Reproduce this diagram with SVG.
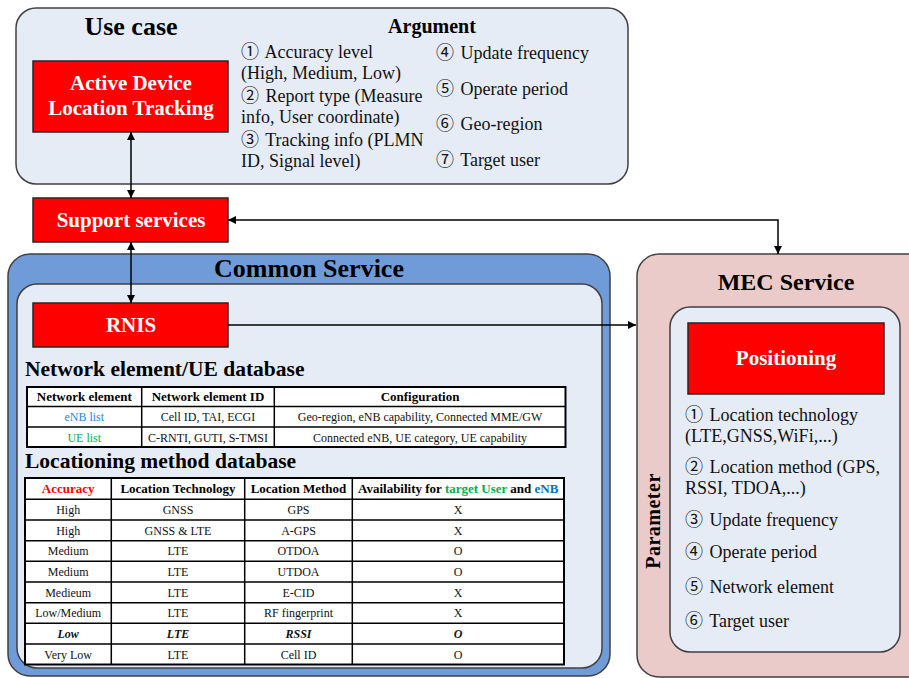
<svg xmlns="http://www.w3.org/2000/svg" width="909" height="678" viewBox="0 0 909 678">
<defs>
<style>
text{font-family:"Liberation Serif","Times New Roman",serif;fill:#111}
.red{fill:#FF0000;stroke:#262626;stroke-width:1.5}
.wt{fill:#fff;font-weight:bold;font-size:21px;text-anchor:middle}
.title{font-weight:bold;font-size:26px;text-anchor:middle;fill:#000}
.sub{font-weight:bold;font-size:20px;fill:#000}
.h2{font-weight:bold;font-size:21.5px;fill:#000}
.item{font-size:18px}
.c{font-family:"Noto Sans CJK JP","DejaVu Sans",sans-serif;font-size:18px}
.th{font-weight:bold;font-size:13px;text-anchor:middle;fill:#000}
.td{font-size:12px;text-anchor:middle;fill:#111}
.bi{font-weight:bold;font-style:italic}
.tbl{fill:#fff;stroke:#000;stroke-width:2}
.grid{stroke:#000;stroke-width:1.5;fill:none}
.conn{stroke:#000;stroke-width:1.5;fill:none}
</style>
<marker id="ah" viewBox="0 0 10 10" refX="10" refY="5" markerWidth="8" markerHeight="8" orient="auto-start-reverse" markerUnits="userSpaceOnUse">
<path d="M0,0 L10,5 L0,10 z" fill="#000"/>
</marker>
</defs>

<g id="usecase">
<rect x="16" y="8" width="612" height="176" rx="20" fill="#E6ECF6" stroke="#404040" stroke-width="1.5"/>
<text class="title" x="131" y="35">Use case</text>
<text class="sub" x="432" y="33" text-anchor="middle">Argument</text>
<text class="item" x="241" y="58"><tspan class="c">①</tspan> <tspan dx="2">Accuracy level</tspan></text>
<text class="item" x="241" y="79"> (High, Medium, Low)</text>
<text class="item" x="241" y="102"><tspan class="c">②</tspan> <tspan dx="2">Report type (Measure</tspan></text>
<text class="item" x="241" y="123">info, User coordinate)</text>
<text class="item" x="241" y="146"><tspan class="c">③</tspan> <tspan dx="2">Tracking info (PLMN</tspan></text>
<text class="item" x="241" y="167">ID, Signal level)</text>
<text class="item" x="436" y="59"><tspan class="c">④</tspan> <tspan dx="2">Update frequency</tspan></text>
<text class="item" x="436" y="95"><tspan class="c">⑤</tspan> <tspan dx="2">Operate period</tspan></text>
<text class="item" x="436" y="130"><tspan class="c">⑥</tspan> <tspan dx="2">Geo-region</tspan></text>
<text class="item" x="436" y="166"><tspan class="c">⑦</tspan> <tspan dx="2">Target user</tspan></text>
</g>

<g id="active-device">
<rect class="red" x="33" y="61" width="195" height="71"/>
<text class="wt" x="131" y="90">Active Device</text>
<text class="wt" x="131" y="115">Location Tracking</text>
</g>

<g id="support-services">
<rect class="red" x="33" y="198" width="195" height="44"/>
<text class="wt" x="131" y="227">Support services</text>
</g>

<g id="common-service">
<rect x="8" y="254" width="602" height="422" rx="22" fill="#6F9BD9" stroke="#404040" stroke-width="1.5"/>
<text class="title" x="309" y="277">Common Service</text>
<rect x="17" y="284" width="585" height="384" rx="20" fill="#E6ECF6" stroke="#404040" stroke-width="1.5"/>
</g>

<g id="rnis">
<rect class="red" x="33" y="303" width="195" height="44"/>
<text class="wt" x="131" y="332">RNIS</text>
</g>

<g id="ne-ue-database">
<text class="h2" x="25" y="376">Network element/UE database</text>
<rect class="tbl" x="27" y="387" width="538.5" height="60"/>
<path class="grid" d="M27 406.5H565.5M27 427H565.5M141.7 387V447M274.3 387V447"/>
<text class="th" x="84.3" y="401">Network element</text>
<text class="th" x="208" y="401">Network element ID</text>
<text class="th" x="420" y="401">Configuration</text>
<text class="td" x="84.3" y="421" style="fill:#2E86D1">eNB list</text>
<text class="td" x="208" y="421">Cell ID, TAI, ECGI</text>
<text class="td" x="420" y="421">Geo-region, eNB capability, Connected MME/GW</text>
<text class="td" x="84.3" y="441.5" style="fill:#00B050">UE list</text>
<text class="td" x="208" y="441.5">C-RNTI, GUTI, S-TMSI</text>
<text class="td" x="420" y="441.5">Connected eNB, UE category, UE capability</text>
</g>

<g id="locationing-database">
<text class="h2" x="25" y="468">Locationing method database</text>
<rect class="tbl" x="25" y="478" width="539" height="186.5"/>
<path class="grid" d="M25 499.3H564M25 520H564M25 540.7H564M25 561.3H564M25 582H564M25 602.7H564M25 623.3H564M25 644H564M111.3 478V664.5M244.7 478V664.5M352.3 478V664.5"/>
<text class="th" x="68.2" y="493" style="fill:#FF0000">Accuracy</text>
<text class="th" x="178" y="493">Location Technology</text>
<text class="th" x="298.5" y="493">Location Method</text>
<text class="th" x="458.2" y="493">Availability for <tspan style="fill:#00B050">target User</tspan> and <tspan style="fill:#0070C0">eNB</tspan></text>

<text class="td" x="68.2" y="514">High</text><text class="td" x="178" y="514">GNSS</text><text class="td" x="298.5" y="514">GPS</text><text class="td" x="458.2" y="514">X</text>
<text class="td" x="68.2" y="534.7">High</text><text class="td" x="178" y="534.7">GNSS &amp; LTE</text><text class="td" x="298.5" y="534.7">A-GPS</text><text class="td" x="458.2" y="534.7">X</text>
<text class="td" x="68.2" y="555.3">Medium</text><text class="td" x="178" y="555.3">LTE</text><text class="td" x="298.5" y="555.3">OTDOA</text><text class="td" x="458.2" y="555.3">O</text>
<text class="td" x="68.2" y="576">Medium</text><text class="td" x="178" y="576">LTE</text><text class="td" x="298.5" y="576">UTDOA</text><text class="td" x="458.2" y="576">O</text>
<text class="td" x="68.2" y="596.6">Medieum</text><text class="td" x="178" y="596.6">LTE</text><text class="td" x="298.5" y="596.6">E-CID</text><text class="td" x="458.2" y="596.6">X</text>
<text class="td" x="68.2" y="617.3">Low/Medium</text><text class="td" x="178" y="617.3">LTE</text><text class="td" x="298.5" y="617.3">RF fingerprint</text><text class="td" x="458.2" y="617.3">X</text>
<text class="td bi" x="68.2" y="638">Low</text><text class="td bi" x="178" y="638">LTE</text><text class="td bi" x="298.5" y="638">RSSI</text><text class="td bi" x="458.2" y="638">O</text>
<text class="td" x="68.2" y="658.6">Very Low</text><text class="td" x="178" y="658.6">LTE</text><text class="td" x="298.5" y="658.6">Cell ID</text><text class="td" x="458.2" y="658.6">O</text>
</g>

<g id="mec-service">
<rect x="637" y="254" width="300" height="423" rx="22" fill="#EBCBCA" stroke="#404040" stroke-width="1.5"/>
<text class="title" x="786" y="290" style="font-size:24px">MEC Service</text>
<text class="sub" transform="translate(660 521) rotate(-90)" text-anchor="middle" letter-spacing="0.5">Parameter</text>
<rect x="670" y="307" width="230" height="345" rx="20" fill="#E6ECF6" stroke="#404040" stroke-width="1.5"/>
</g>

<g id="positioning">
<rect class="red" x="688" y="323" width="196" height="71"/>
<text class="wt" x="786" y="365">Positioning</text>
<text class="item" x="685" y="421"><tspan class="c">①</tspan> <tspan dx="2">Location technology</tspan></text>
<text class="item" x="685" y="442">(LTE,GNSS,WiFi,...)</text>
<text class="item" x="685" y="473"><tspan class="c">②</tspan> <tspan dx="2">Location method (GPS,</tspan></text>
<text class="item" x="685" y="494">RSSI, TDOA,...)</text>
<text class="item" x="685" y="526"><tspan class="c">③</tspan> <tspan dx="2">Update frequency</tspan></text>
<text class="item" x="685" y="558"><tspan class="c">④</tspan> <tspan dx="2">Operate period</tspan></text>
<text class="item" x="685" y="593"><tspan class="c">⑤</tspan> <tspan dx="2">Network element</tspan></text>
<text class="item" x="685" y="627"><tspan class="c">⑥</tspan> <tspan dx="2">Target user</tspan></text>
</g>

<g id="connectors">
<line class="conn" x1="131" y1="132" x2="131" y2="198" marker-start="url(#ah)" marker-end="url(#ah)"/>
<line class="conn" x1="131" y1="242" x2="131" y2="303" marker-start="url(#ah)" marker-end="url(#ah)"/>
<path class="conn" d="M228 220H778V254" marker-start="url(#ah)" marker-end="url(#ah)"/>
<path class="conn" d="M228 325H636" marker-end="url(#ah)"/>
</g>
</svg>
